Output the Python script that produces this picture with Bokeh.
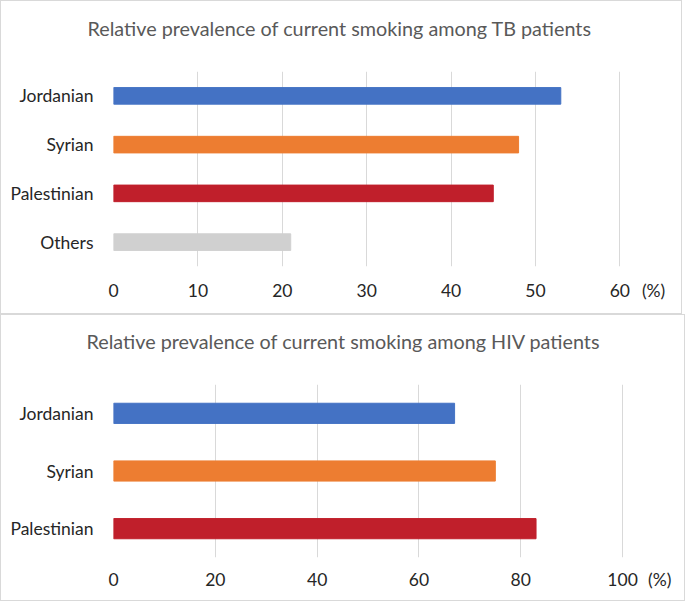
from bokeh.plotting import figure
from bokeh.layouts import column
from bokeh.models import FactorRange, Range1d, FixedTicker, Title
from bokeh.embed import file_html
from bokeh.resources import INLINE

# ---- data ----
tb_title = "Relative prevalence of current smoking among TB patients"
tb_groups = ["Jordanian", "Syrian", "Palestinian", "Others"]
tb_values = [53, 48, 45, 21]
tb_colors = ["#4472C4", "#ED7D31", "#C01F2B", "#D0D0D0"]
tb_ticks = [0, 10, 20, 30, 40, 50, 60]

hiv_title = "Relative prevalence of current smoking among HIV patients"
hiv_groups = ["Jordanian", "Syrian", "Palestinian"]
hiv_values = [67, 75, 83]
hiv_colors = ["#4472C4", "#ED7D31", "#C01F2B"]
hiv_ticks = [0, 20, 40, 60, 80, 100]

FONT = "Lato"
GRID = "#D9D9D9"


def make_panel(title, groups, values, colors, ticks, xmax, pct_pos, width, height,
               left, right, top, bottom, bar_h, title_offset, spacer_size,
               label_standoff):
    p = figure(width=width, height=height, output_backend="svg", toolbar_location=None,
               y_range=FactorRange(factors=list(reversed(groups)), range_padding=0),
               x_range=Range1d(0, xmax), min_border_left=left, min_border_right=right,
               min_border_top=top, min_border_bottom=bottom, title=title)
    p.hbar(y=groups, right=values, height=bar_h, left=0, color=colors)
    p.title.text_font = FONT
    p.title.text_font_size = "19.8px"
    p.title.text_font_style = "normal"
    p.title.text_color = "#595959"
    p.title.align = "left"
    p.title.offset = title_offset
    p.title.standoff = 0
    p.add_layout(Title(text=" ", text_font_size=spacer_size, standoff=0), "above")
    p.outline_line_color = None
    p.ygrid.grid_line_color = None
    p.xgrid.ticker = FixedTicker(ticks=ticks)
    p.xgrid.grid_line_color = GRID
    p.xaxis.ticker = FixedTicker(ticks=ticks + [pct_pos])
    p.xaxis.major_label_overrides = {pct_pos: "(%)"}
    for ax in (p.xaxis[0], p.yaxis[0]):
        ax.axis_line_color = None
        ax.major_tick_line_color = None
        ax.minor_tick_line_color = None
        ax.major_tick_out = 0
        ax.major_tick_in = 0
        ax.minor_tick_out = 0
        ax.major_label_text_font = FONT
        ax.major_label_text_font_size = "17.5px"
        ax.major_label_text_color = "#262626"
    p.xaxis.major_label_standoff = label_standoff
    p.yaxis.major_label_standoff = 20
    p.background_fill_color = "white"
    p.border_fill_color = "white"
    p.styles = {"border": "1px solid #D9D9D9"}
    return p


p1 = make_panel(tb_title, tb_groups, tb_values, tb_colors, tb_ticks, 66, 64.0,
                682, 314, 111, 13, 70, 49, 0.34, -26, "27px", 13)
p2 = make_panel(hiv_title, hiv_groups, hiv_values, hiv_colors, hiv_ticks, 110, 107.3,
                685, 287, 112, 13, 69, 45, 0.35, -27, "27px", 11)

layout = column(p1, p2, spacing=0)
open("out.html", "w").write(file_html(layout, INLINE))
